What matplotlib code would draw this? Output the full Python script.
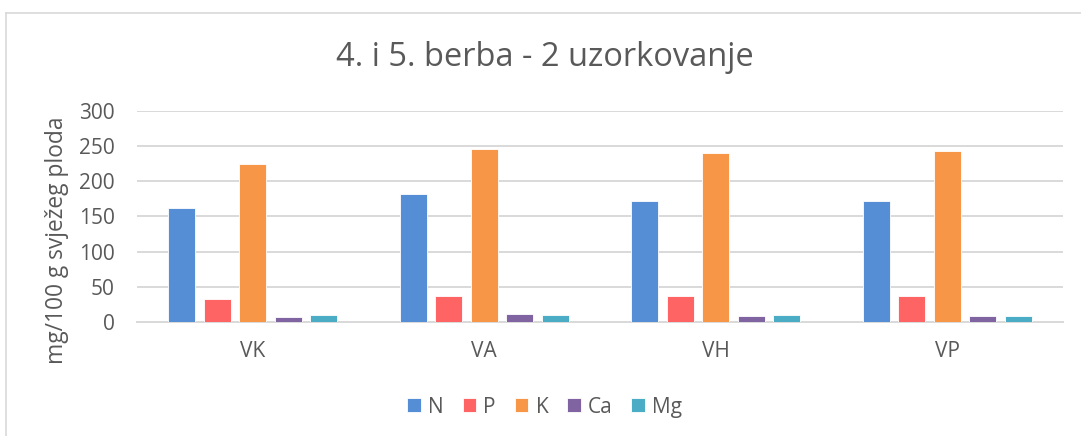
import numpy as np
import matplotlib.pyplot as plt

plt.rcParams['font.family'] = ['Open Sans', 'DejaVu Sans']

# data
categories = ['VK', 'VA', 'VH', 'VP']
series = ['N', 'P', 'K', 'Ca', 'Mg']
N = [162, 182, 172, 172]
P = [32, 36, 37, 36]
K = [225, 246, 240, 243]
Ca = [7, 11, 8, 8]
Mg = [9, 10, 9, 8]
values = [N, P, K, Ca, Mg]
colors = ['#558ED5', '#FF6465', '#F79646', '#8064A2', '#4BACC6']

text_col = '#595959'

fig = plt.figure(figsize=(10.81, 4.36), dpi=100)
ax = fig.add_axes([0.1267, 0.2622, 0.8566, 0.4825])

x = np.arange(len(categories))
pitch = 0.153
width = 0.1164
for i, (name, vals) in enumerate(zip(series, values)):
    ax.bar(x + (i - 2) * pitch, vals, width, color=colors[i], label=name,
           edgecolor='white', linewidth=0.6, zorder=3)

ax.set_xlim(-0.5, len(categories) - 0.5)
ax.set_ylim(0, 300)
ax.set_yticks(np.arange(0, 301, 50))
ax.set_xticks(x)
ax.set_xticklabels(categories)
ax.grid(axis='y', color='#D9D9D9', linewidth=1.4, zorder=0)
for s in ['top', 'right', 'left']:
    ax.spines[s].set_visible(False)
ax.spines['bottom'].set_color('#D9D9D9')
ax.spines['bottom'].set_linewidth(1.4)
ax.tick_params(axis='both', length=0, labelsize=15, colors=text_col)
ax.tick_params(axis='y', pad=16)
ax.tick_params(axis='x', pad=14)

fig.text(0.504, 0.869, '4. i 5. berba - 2 uzorkovanje', ha='center', va='center',
         fontsize=23.5, color=text_col)
fig.text(0.053, 0.448, 'mg/100 g svježeg ploda', rotation=90, ha='center', va='center',
         fontsize=16.4, color=text_col)

leg = fig.legend(loc='center', bbox_to_anchor=(0.504, 0.066), ncol=5, frameon=False,
                 fontsize=15, handlelength=0.65, handleheight=0.65,
                 handletextpad=0.35, columnspacing=0.9)
for t in leg.get_texts():
    t.set_color(text_col)

# chart border (top and left visible)
fig.add_artist(plt.Line2D([0.0055, 0.0055], [0, 0.971], color='#D9D9D9', linewidth=1.2))
fig.add_artist(plt.Line2D([0.0055, 1], [0.971, 0.971], color='#D9D9D9', linewidth=1.2))

fig.savefig('out.png', dpi=100)
